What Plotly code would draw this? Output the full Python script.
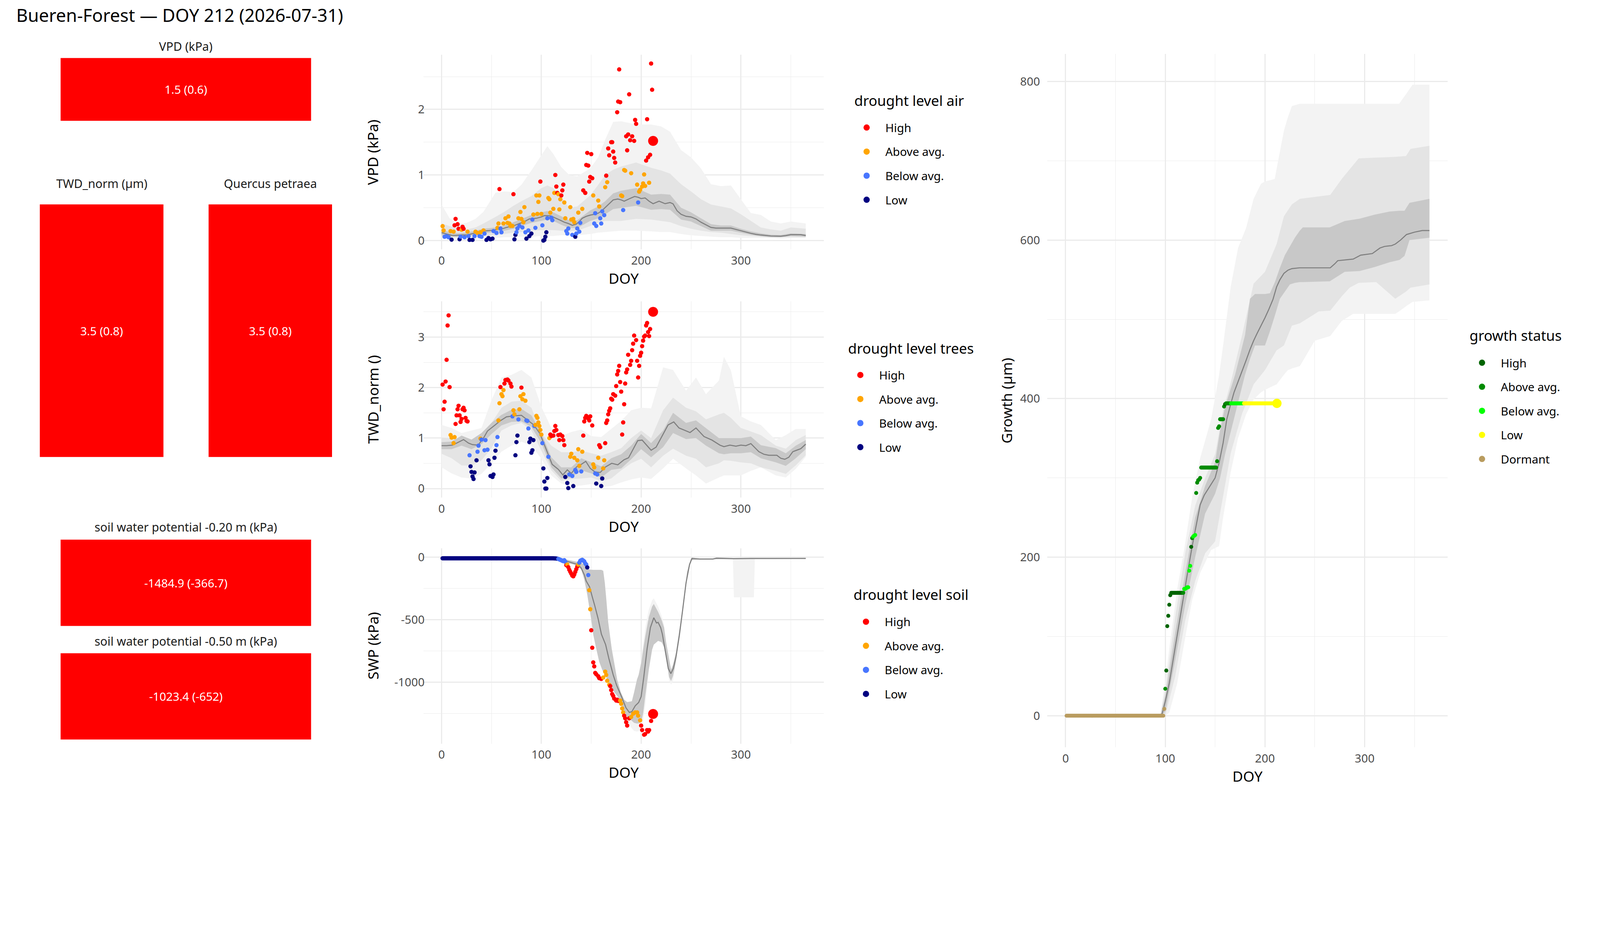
import plotly.graph_objects as go

FONT = "Noto Sans"
TICK_COLOR = "#4d4d4d"

# ------------------------------------------------------------------ text
TITLE = "Bueren-Forest — DOY 212 (2026-07-31)"
X_TITLE = "DOY"
Y_TITLES = ["VPD (kPa)", "TWD_norm ()", "SWP (kPa)", "Growth (µm)"]
LEGEND_TITLES = ["drought level air", "drought level trees", "drought level soil", "growth status"]

DROUGHT_LEVELS = ["High", "Above avg.", "Below avg.", "Low"]
DROUGHT_COLORS = ["#FF0000", "#FFA500", "#4876FF", "#000080"]
GROWTH_LEVELS = ["High", "Above avg.", "Below avg.", "Low", "Dormant"]
GROWTH_COLORS = ["#006400", "#008B00", "#00FF00", "#FFFF00", "#B99C5F"]
CODE_INDEX = {"H": 0, "A": 1, "B": 2, "L": 3, "D": 4}

BAND_COLORS = ["#F3F3F3", "#E4E4E4", "#C8C8C8"]
MEDIAN_COLOR = "#7F7F7F"

CURRENT_DOY = 212

# ------------------------------------------------------------------ tiles
tile_titles = ["VPD (kPa)", "TWD_norm (µm)", "Quercus petraea",
               "soil water potential -0.20 m (kPa)", "soil water potential -0.50 m (kPa)"]
tile_values = [1.5, 3.5, 3.5, -1484.9, -1023.4]
tile_refs = [0.6, 0.8, 0.8, -366.7, -652]
tile_levels = ["High", "High", "High", "High", "High"]

# ------------------------------------------------------------------ VPD
vpd_band_doy = [0, 8, 16, 25, 34, 42, 54, 63, 72, 80, 90, 100, 106, 112, 120, 128, 136, 149, 157, 164,
                172, 180, 195, 210, 220, 229, 240, 250, 260, 270, 280, 290, 300, 310, 320, 330, 340, 350, 365]
vpd_outer_hi = [0.55, 0.34, 0.25, 0.27, 0.33, 0.44, 0.73, 0.75, 0.74, 0.85, 1.07, 1.3, 1.44, 1.32, 1.12, 1.0, 0.98, 1.1, 1.27, 1.54,
                1.81, 1.82, 1.77, 1.77, 1.74, 1.66, 1.38, 1.27, 1.1, 0.86, 0.83, 0.84, 0.63, 0.42, 0.39, 0.29, 0.26, 0.29, 0.26]
vpd_outer_lo = [0.03, 0.03, 0.03, 0.03, 0.03, 0.04, 0.04, 0.05, 0.05, 0.06, 0.06, 0.07, 0.07, 0.07, 0.08, 0.08, 0.08, 0.1, 0.12, 0.13,
                0.14, 0.15, 0.15, 0.14, 0.13, 0.13, 0.1, 0.08, 0.07, 0.06, 0.05, 0.05, 0.04, 0.04, 0.04, 0.04, 0.03, 0.04, 0.04]
vpd_mid_hi = [0.26, 0.22, 0.19, 0.17, 0.2, 0.26, 0.36, 0.44, 0.53, 0.6, 0.68, 0.8, 0.84, 0.8, 0.66, 0.5, 0.52, 0.69, 0.85, 1.0,
              1.08, 1.13, 1.19, 1.11, 1.07, 1.02, 0.86, 0.75, 0.63, 0.55, 0.52, 0.49, 0.4, 0.3, 0.2, 0.17, 0.15, 0.2, 0.18]
vpd_mid_lo = [0.05, 0.05, 0.05, 0.05, 0.06, 0.07, 0.08, 0.1, 0.12, 0.13, 0.15, 0.16, 0.16, 0.16, 0.15, 0.14, 0.15, 0.22, 0.27, 0.3,
              0.3, 0.3, 0.33, 0.32, 0.3, 0.28, 0.22, 0.18, 0.15, 0.13, 0.12, 0.1, 0.08, 0.07, 0.06, 0.05, 0.05, 0.05, 0.05]
vpd_inner_hi = [0.16, 0.13, 0.11, 0.12, 0.15, 0.18, 0.2, 0.23, 0.28, 0.33, 0.39, 0.43, 0.45, 0.43, 0.37, 0.31, 0.31, 0.46, 0.52, 0.6,
                0.72, 0.76, 0.8, 0.7, 0.71, 0.7, 0.5, 0.43, 0.34, 0.25, 0.23, 0.23, 0.18, 0.14, 0.11, 0.09, 0.085, 0.11, 0.1]
vpd_inner_lo = [0.08, 0.06, 0.055, 0.06, 0.09, 0.11, 0.13, 0.15, 0.18, 0.22, 0.27, 0.3, 0.32, 0.3, 0.24, 0.19, 0.19, 0.3, 0.34, 0.4,
                0.48, 0.5, 0.53, 0.47, 0.48, 0.47, 0.32, 0.29, 0.22, 0.15, 0.15, 0.15, 0.12, 0.09, 0.065, 0.05, 0.05, 0.07, 0.06]
vpd_med_doy = [0, 5, 10, 14, 20, 26, 32, 38, 42, 46, 50, 57, 61, 65, 70, 73, 78, 82, 88, 95, 100, 103, 109, 115, 119, 123, 127,
               131, 135, 138, 141, 145, 149, 153, 157, 161, 164, 169, 172, 176.6, 180, 183, 187, 190, 193.5, 197, 200, 204, 208,
               212, 218, 224, 229, 232, 236, 240, 245, 250, 255, 260, 265, 270, 275, 280, 290, 295, 300, 305, 310, 315, 320, 330,
               340, 345, 350, 360, 365]
vpd_med = [0.12, 0.1, 0.08, 0.078, 0.085, 0.087, 0.11, 0.13, 0.145, 0.15, 0.155, 0.174, 0.18, 0.2, 0.22, 0.23, 0.26, 0.28, 0.33,
           0.34, 0.36, 0.38, 0.378, 0.34, 0.31, 0.28, 0.26, 0.232, 0.25, 0.29, 0.34, 0.37, 0.388, 0.4, 0.417, 0.46, 0.504, 0.58,
           0.62, 0.634, 0.62, 0.6, 0.63, 0.65, 0.672, 0.66, 0.64, 0.65, 0.6, 0.562, 0.6, 0.562, 0.58, 0.56, 0.455, 0.4, 0.37, 0.36,
           0.33, 0.28, 0.24, 0.2, 0.19, 0.19, 0.19, 0.17, 0.15, 0.13, 0.11, 0.095, 0.085, 0.07, 0.066, 0.075, 0.09, 0.09, 0.077]
vpd_obs_doy = [1, 2, 3, 5, 7, 9, 10, 12, 13, 14, 16, 17, 18, 19, 20, 21, 22, 23, 26, 27,
               28, 31, 33, 34, 36, 38, 39, 40, 42, 43, 45, 47, 49, 51, 52, 55, 56, 57, 58, 59,
               60, 62, 64, 66, 67, 68, 69, 71, 72, 73, 74, 75, 76, 77, 78, 79, 80, 81, 82, 83,
               84, 85, 87, 88, 90, 91, 92, 94, 95, 96, 97, 98, 99, 100, 101, 102, 103, 104, 105, 106,
               107, 108, 109, 110, 111, 112, 113, 114, 115, 116, 117, 118, 119, 120, 121, 122, 123, 124, 125, 126,
               127, 129, 130, 131, 132, 133, 134, 135, 136, 137, 138, 139, 141, 142, 144, 145, 146, 147, 148, 149,
               150, 151, 152, 153, 154, 155, 157, 158, 159, 160, 161, 163, 164, 165, 166, 167, 168, 170, 171, 172,
               173, 174, 176, 177, 178, 179, 180, 181, 182, 183, 184, 185, 186, 187, 188, 189, 190, 191, 193, 194,
               195, 196, 197, 198, 199, 201, 202, 203, 204, 205, 206, 207, 208, 209, 210, 211]
vpd_obs = [0.22, 0.155, 0.058, 0.068, 0.05, 0.145, 0.014, 0.136, 0.233, 0.33, 0.25, 0.18, 0.02, 0.06, 0.165, 0.21, 0.18, 0.05, 0.136, 0.068,
           0.01, 0.01, 0.068, 0.136, 0.116, 0.068, 0.126, 0.058, 0.155, 0.107, 0.01, 0.039, 0.019, 0.029, 0.145, 0.116, 0.194, 0.26, 0.785, 0.184,
           0.126, 0.26, 0.34, 0.27, 0.368, 0.26, 0.223, 0.223, 0.707, 0.019, 0.087, 0.126, 0.184, 0.34, 0.223, 0.436, 0.33, 0.2, 0.28, 0.51,
           0.126, 0.029, 0.155, 0.068, 0.107, 0.32, 0.397, 0.194, 0.688, 0.407, 0.59, 0.688, 0.9, 0.407, 0.233, 0.0, 0.01, 0.058, 0.126, 0.34,
           0.649, 0.63, 0.426, 0.349, 0.31, 0.484, 0.727, 1.0, 0.824, 0.727, 0.707, 0.475, 0.63, 0.688, 0.765, 0.853, 0.581, 0.34, 0.145, 0.107,
           0.184, 0.51, 0.32, 0.087, 0.33, 0.28, 0.058, 0.107, 0.184, 0.426, 0.136, 0.27, 0.484, 0.765, 0.727, 1.153, 1.337, 1.143, 0.9, 0.97,
           1.318, 0.95, 0.688, 0.26, 0.417, 0.223, 0.61, 0.52, 0.34, 0.26, 0.446, 0.388, 0.814, 0.99, 0.89, 1.405, 1.3, 1.5, 1.5, 1.357,
           1.26, 1.19, 1.957, 2.12, 2.61, 2.11, 0.688, 0.678, 0.465, 1.076, 1.066, 1.59, 1.376, 1.618, 2.23, 1.53, 1.027, 1.59, 1.52, 1.84,
           1.78, 0.853, 0.581, 0.746, 0.775, 0.824, 0.872, 1.008, 0.833, 1.22, 1.85, 1.27, 0.882, 1.308, 2.7, 2.3]
vpd_obs_level = ("AABBBALAHH" "HHLBAHHBAB" "LLBAABABAB" "LLLLBBAAHB" "BAAAAAAAHL"
                 "LBBABAABAA" "BLBLLBABAA" "AAHABLLLLB" "AAABBAAHHH" "AAAHHHAABB"
                 "BAABAALBBA" "BBAHHHHHHH" "HHABBBAABB" "BBAHAHHHHH" "HHHHHHAABA"
                 "AHHHHHAHHH" "HABAAAAAAH" "HHAHHH")
vpd_now, vpd_now_level = 1.52, "H"

# ------------------------------------------------------------------ TWD
twd_band_doy = [0, 10, 20, 30, 40, 50, 60, 70, 80, 90, 100, 110, 120, 130, 140, 150, 160, 170, 180, 190,
                200, 210, 222, 232, 245, 255, 265, 278, 283, 290, 300, 310, 320, 335, 345, 355, 365]
twd_outer_hi = [1.26, 1.2, 1.1, 1.15, 1.2, 1.75, 2.2, 2.25, 2.35, 2.2, 1.62, 1.2, 1.04, 1.12, 1.17, 1.04, 1.02, 1.18, 1.34, 1.55,
                1.6, 1.59, 2.4, 2.35, 1.94, 2.2, 1.87, 2.14, 2.61, 2.34, 1.43, 1.33, 1.26, 0.96, 1.06, 1.18, 1.18]
twd_outer_lo = [0.42, 0.3, 0.22, 0.2, 0.29, 0.5, 0.73, 0.85, 0.93, 0.85, 0.59, 0.26, 0.1, 0.05, 0.06, 0.09, 0.03, 0.05, 0.12, 0.18,
                0.22, 0.19, 0.4, 0.59, 0.4, 0.26, 0.1, 0.22, 0.26, 0.26, 0.26, 0.35, 0.42, 0.26, 0.22, 0.39, 0.63]
twd_mid_hi = [1.01, 1.0, 0.96, 0.93, 0.96, 1.3, 1.6, 1.72, 1.74, 1.6, 1.1, 0.85, 0.72, 0.72, 0.75, 0.7, 0.65, 0.72, 0.8, 1.0,
              1.15, 1.0, 1.55, 1.8, 1.6, 1.53, 1.37, 1.47, 1.5, 1.4, 1.2, 1.13, 1.06, 0.85, 0.79, 0.96, 1.06]
twd_mid_lo = [0.69, 0.6, 0.46, 0.45, 0.56, 0.8, 1.15, 1.25, 1.3, 1.15, 0.75, 0.36, 0.15, 0.19, 0.2, 0.22, 0.15, 0.2, 0.36, 0.5,
              0.59, 0.42, 0.65, 0.79, 0.65, 0.59, 0.42, 0.5, 0.56, 0.55, 0.52, 0.5, 0.42, 0.35, 0.29, 0.46, 0.66]
twd_inner_hi = [0.92, 0.93, 1.05, 0.97, 1.1, 1.3, 1.46, 1.56, 1.58, 1.45, 1.1, 0.62, 0.42, 0.42, 0.6, 0.52, 0.44, 0.6, 0.68, 0.85,
                1.08, 0.9, 1.15, 1.5, 1.3, 1.35, 1.2, 1.0, 1.0, 1.0, 1.0, 1.03, 0.86, 0.8, 0.7, 0.85, 0.96]
twd_inner_lo = [0.78, 0.78, 0.85, 0.78, 0.88, 1.08, 1.25, 1.32, 1.33, 1.22, 0.9, 0.42, 0.2, 0.22, 0.36, 0.3, 0.22, 0.37, 0.4, 0.58,
                0.78, 0.62, 0.82, 1.1, 0.98, 1.0, 0.85, 0.7, 0.68, 0.7, 0.7, 0.72, 0.6, 0.52, 0.45, 0.6, 0.78]
twd_med_doy = [0, 5, 11, 17, 22, 27, 31, 36.5, 42, 46, 52.5, 58.7, 65, 72.5, 80, 86, 92.4, 98.5, 104.6, 110.8, 117, 121.5, 126,
               130, 135.3, 140, 144.5, 149, 153.7, 159, 164.4, 170.5, 176.6, 182.8, 187.4, 192, 196.6, 201, 205.7, 210, 215,
               221, 227, 232.7, 238, 243, 249, 255, 263, 271, 279, 283, 289, 295, 300, 305, 310, 318, 323, 328, 336, 340, 344,
               348, 352, 356, 360, 365]
twd_med = [0.85, 0.85, 0.86, 0.92, 0.97, 0.9, 0.87, 0.86, 1.0, 1.14, 1.24, 1.34, 1.42, 1.44, 1.45, 1.36, 1.26, 1.09, 0.78, 0.48,
           0.38, 0.27, 0.37, 0.3, 0.43, 0.48, 0.54, 0.4, 0.33, 0.32, 0.43, 0.5, 0.47, 0.57, 0.61, 0.78, 0.95, 0.96, 0.86, 0.76,
           0.82, 1.04, 1.26, 1.32, 1.2, 1.16, 1.11, 1.2, 1.03, 0.96, 0.86, 0.83, 0.86, 0.84, 0.86, 0.85, 0.89, 0.73, 0.68, 0.66,
           0.66, 0.6, 0.58, 0.62, 0.73, 0.76, 0.79, 0.88]
twd_obs_doy = [1, 2, 3, 4, 5, 6, 7, 8, 9, 10, 12, 13, 14, 15, 16, 17, 18, 19, 20, 21,
               22, 23, 24, 25, 26, 28, 29, 30, 31, 32, 33, 35, 36, 37, 39, 40, 43, 44, 46, 47,
               48, 49, 51, 52, 53, 54, 55, 56, 57, 58, 59, 60, 61, 62, 63, 64, 66, 67, 69, 70,
               71, 72, 73, 74, 75, 76, 77, 78, 79, 80, 81, 82, 84, 85, 86, 87, 88, 89, 90, 91,
               92, 93, 94, 95, 96, 97, 98, 99, 100, 101, 102, 103, 104, 105, 106, 107, 108, 109, 110, 112,
               113, 114, 115, 117, 118, 119, 121, 122, 123, 124, 126, 127, 128, 129, 130, 131, 132, 133, 134, 135,
               136, 137, 138, 140, 141, 142, 143, 144, 145, 147, 148, 149, 151, 152, 153, 154, 155, 156, 157, 158,
               159, 160, 161, 162, 163, 164, 165, 166, 167, 168, 169, 170, 171, 172, 174, 175, 176, 177, 178, 179,
               180, 181, 182, 183, 184, 185, 186, 187, 189, 190, 191, 192, 193, 195, 196, 197, 198, 199, 200, 201,
               202, 203, 204, 205, 206, 207, 208, 209]
twd_obs = [2.06, 1.57, 1.72, 2.12, 2.55, 3.23, 3.43, 2.01, 1.06, 1.01, 0.9, 1.02, 1.28, 1.45, 1.57, 1.64, 1.45, 1.32, 1.38, 1.57,
           1.6, 1.55, 1.4, 1.34, 1.33, 0.66, 0.44, 0.33, 0.24, 0.19, 0.32, 0.56, 0.73, 0.85, 0.99, 0.97, 0.76, 0.96, 0.77, 0.56,
           0.48, 0.25, 0.23, 0.28, 0.61, 0.75, 0.86, 1.02, 1.35, 1.69, 2.01, 1.87, 1.83, 1.95, 2.08, 2.15, 2.16, 2.14, 2.08, 2.02,
           1.43, 1.55, 1.47, 0.66, 0.92, 1.05, 1.37, 1.57, 1.83, 2.0, 1.77, 1.87, 1.74, 1.35, 1.34, 1.19, 0.92, 0.99, 0.71, 0.76,
           0.96, 1.24, 1.26, 1.44, 1.4, 1.31, 1.24, 1.16, 1.07, 0.9, 0.4, 0.14, 0.0, 0.0, 0.21, 0.63, 1.0, 1.07, 1.04, 1.05,
           1.14, 1.24, 1.16, 1.06, 0.96, 1.07, 1.04, 0.96, 0.86, 0.23, 0.11, 0.01, 0.28, 0.63, 0.69, 0.25, 0.05, 0.61, 0.37, 0.33,
           0.56, 0.78, 0.45, 0.34, 0.73, 1.05, 1.33, 1.4, 1.44, 1.39, 1.35, 1.43, 1.25, 0.48, 0.42, 0.3, 0.1, 0.28, 0.61, 0.86,
           0.82, 0.05, 0.2, 0.4, 0.56, 0.9, 1.3, 1.35, 1.47, 1.54, 1.59, 1.78, 1.76, 1.87, 1.84, 2.03, 2.26, 2.33, 2.43, 2.11,
           1.92, 1.07, 1.31, 1.67, 2.08, 2.3, 2.36, 2.65, 2.45, 2.53, 2.74, 2.87, 3.03, 2.94, 2.53, 2.2, 2.43, 2.63, 2.69, 2.82,
           2.93, 3.01, 3.03, 3.23, 3.28, 3.1, 3.02, 3.16]
twd_obs_level = ("HHHHHHHHAA" "AAHHHHHHHH" "HHHHHBLLLL" "LLBBABBBBL" "LLLLLLBBAA"
                 "HAAAHHHHHH" "BAALLLBAAH" "AAABBBLLLL" "LBAAAAAAAB" "LLLLLBAHHH"
                 "HHHHHHHHHL" "LLBAABLABB" "AAABAHHHHH" "HHHAABLBAH" "HLLAAHHHHH"
                 "HHHHHHHHHH" "HHHHHHHHHH" "HHHHHHHHHH" "HHHHHHHH")
twd_now, twd_now_level = 3.5, "H"

# ------------------------------------------------------------------ SWP
swp_inner_doy = [0, 100, 115, 120, 125, 130, 135, 140, 143, 146, 148, 150, 152, 155, 158, 160, 162, 163.6, 165, 167,
                 170.5, 174, 176, 179.6, 183, 186, 190.7, 193, 195.8, 197.5, 200, 202, 204.3, 207.7, 211, 212.7, 217, 220.5, 223, 225,
                 228, 230, 232, 235, 238, 242, 246, 250, 260, 365]
swp_inner_lo = [-12, -12, -20, -30, -45, -55, -65, -100, -180, -300, -396, -500, -620, -732, -837, -880, -920, -942, -960, -1000,
                -1050, -1090, -1110, -1150, -1230, -1280, -1310, -1325, -1331, -1330, -1320, -1250, -1100, -900, -740, -700, -670, -680, -720, -800,
                -960, -990, -950, -830, -650, -420, -175, -25, -18, -14]
swp_inner_hi = [-5, -5, -8, -12, -20, -28, -35, -45, -60, -90, -100, -102, -102, -102, -102, -102, -110, -207, -330, -522,
                -732, -890, -980, -1080, -1140, -1160, -1153, -1080, -980, -942, -850, -740, -627, -480, -396, -375, -438, -501, -564, -680,
                -820, -900, -860, -760, -600, -390, -120, -10, -12, -8]
swp_outer_doy = [0, 100, 115, 120, 125, 130, 135, 140, 143, 146, 148, 150, 152, 155, 158, 160, 162, 163.6, 165, 167,
                 170.5, 174, 176, 179.6, 183, 186, 190.7, 193, 195.8, 197.5, 200, 202, 204.3, 207.7, 211, 212.7, 217, 220.5, 223, 225,
                 228, 230, 232, 235, 238, 242, 246, 250, 260, 292, 293, 313, 314, 365]
swp_outer_lo = [-12, -12, -20, -30, -45, -55, -65, -100, -180, -300, -396, -500, -620, -732, -837, -880, -920, -942, -960, -1000,
                -1050, -1090, -1110, -1150, -1250, -1320, -1370, -1390, -1395, -1390, -1365, -1300, -1180, -900, -740, -700, -670, -680, -720, -800,
                -985, -1020, -990, -830, -650, -420, -175, -25, -18, -16, -322, -322, -16, -14]
swp_outer_hi = [-5, -5, -8, -12, -20, -28, -35, -45, -60, -90, -100, -102, -102, -102, -102, -102, -110, -207, -330, -522,
                -732, -890, -980, -1080, -1140, -1160, -1153, -1080, -980, -942, -820, -700, -560, -420, -345, -330, -395, -470, -540, -680,
                -820, -900, -860, -760, -600, -390, -120, -10, -12, -12, -13, -13, -12, -8]
swp_med_doy = [0, 50, 100, 110, 115, 120, 125, 130, 136.4, 139.8, 143.2, 144.9, 148.3, 150.8, 153.4, 156.8, 160.2, 164.4, 167.8,
               172, 175.5, 180.6, 184.8, 188.2, 190.7, 194.1, 197.5, 200, 202.6, 206, 209.3, 212.7, 215.4, 217, 219.6, 221.3, 224.7,
               227.2, 229.8, 232.3, 235, 238.3, 241.7, 245, 248.5, 251, 258.7, 272, 275.6, 292.6, 309.6, 365]
swp_med = [-8, -8, -9, -10, -13, -20, -32, -45, -60, -86, -144, -191, -238, -312, -385, -490, -617, -700, -816,
           -942, -1026, -1121, -1205, -1242, -1236, -1189, -1163, -1116, -963, -732, -564, -485, -527, -522, -564, -617, -774,
           -890, -932, -890, -795, -627, -417, -207, -60, -11, -16, -16, -9, -13, -11, -11]
swp_obs_doy = list(range(1, 117)) + [
    117, 118, 119, 120, 121, 122, 123, 124, 125, 126, 127, 128, 129, 130, 131, 132, 133, 134, 135, 136,
    137, 138, 139, 140, 141, 142, 143, 144, 145, 146, 147, 148, 149, 150, 151, 152, 153, 154, 155, 157,
    158, 160, 162, 164, 165, 166, 168, 169, 170, 171, 172, 173, 175, 176, 177, 179, 180, 181, 182, 183,
    184, 185, 186, 188, 190, 192, 194, 196, 197, 199, 200, 201, 203, 204, 206, 207, 208, 210]
swp_obs = [
    -10, -10, -10, -10, -10, -10, -10, -10, -10, -10, -10, -10, -10, -10, -10, -10, -10, -10, -10, -10,
    -10, -10, -10, -10, -10, -10, -10, -10, -10, -10, -10, -10, -10, -10, -10, -10, -10, -10, -10, -10,
    -10, -10, -10, -10, -10, -10, -10, -10, -10, -10, -10, -10, -10, -10, -10, -10, -10, -10, -10, -10,
    -10, -10, -10, -10, -10, -10, -10, -10, -10, -10, -10, -10, -10, -10, -10, -10, -10, -10, -10, -10,
    -10, -10, -10, -10, -10, -10, -10, -10, -10, -10, -10, -10, -10, -10, -10, -10, -10, -10, -10, -10,
    -10, -10, -10, -10, -10, -10, -10, -10, -10, -10, -10, -10, -11, -11, -12, -13,
    -15, -18, -22, -25, -30, -33, -25, -38, -65, -60, -81, -102, -118, -133, -149, -154, -139, -118, -97, -76,
    -60, -45, -30, -25, -22, -28, -35, -50, -60, -83, -144, -265, -417, -585, -725, -842, -874, -926, -937, -953,
    -968, -974, -963, -916, -942, -989, -1021, -1031, -1063, -1095, -1110, -1131, -1147, -1140, -1150, -1147, -1173, -1210, -1242, -1268,
    -1289, -1320, -1347, -1289, -1278, -1252, -1242, -1242, -1268, -1305, -1347, -1383, -1420, -1415, -1383, -1395, -1383, -1310]
swp_obs_level = ("LLLLLLLLLLLLLLLLLLLL" "LLLLLLLLLLLLLLLLLLLL" "LLLLLLLLLLLLLLLLLLLL"
                 "LLLLLLLLLLLLLLLLLLLL" "LLLLLLLLLLLLLLLLLLLL" "LLLLLLLLLLLLLLLL"
                 "BBBBBBBBHA" "HHHHHHHHHH" "ABBBBBBBBL" "BAAHHHHHHH"
                 "HHAAAAAHHH" "HHHHHAAAAH" "HHHHAAAAAA" "HHHHHHHH")
swp_now, swp_now_level = -1254.15, "H"

# ------------------------------------------------------------------ growth
gr_outer_doy = [0, 95, 100, 104, 112, 119.5, 127, 135, 146, 154, 158, 165.6, 173, 181, 188.6, 196, 200, 209.8, 211.7, 219,
                223, 227, 235, 250, 265.5, 277, 288.5, 300, 330.7, 334.6, 342, 348, 365]
gr_outer_hi = [0, 0, 45, 85, 160, 214, 276, 325, 374, 430, 467, 541, 590, 615, 652, 671, 674, 677, 690, 738,
               755, 769, 772, 772, 772, 772, 772, 772, 772, 772, 785, 796, 796]
gr_outer_lo = [0, 0, 0, 4, 41, 95, 146, 180, 209, 214, 250, 307, 350, 380, 399, 408, 411, 417, 418, 430,
               436, 438, 441, 473, 479, 498, 507, 507, 507, 510, 517, 522, 524]
gr_mid_doy = [0, 95, 100, 110, 120, 130, 140, 150, 158, 165.6, 177, 188.6, 200, 211.7, 219, 227, 235, 254, 265.5, 277,
              285, 294, 311.6, 330.7, 341.5, 346, 365]
gr_mid_hi = [0, 0, 32, 125, 205, 265, 300, 330, 385, 420, 480, 545, 560, 595, 630, 645, 652, 655, 657, 677,
             689, 703, 704, 705, 706, 715, 719]
gr_mid_lo = [0, 0, 0, 50, 120, 170, 205, 220, 276, 331, 381, 418, 436, 461, 467, 492, 495, 510, 511, 529,
             540, 546, 547, 526, 535, 540, 544]
gr_inner_doy = [0, 95, 100, 110, 120, 130, 140, 150, 155, 160, 170, 180, 185, 190, 200, 205, 210, 215, 220, 225,
                230, 235, 238, 265, 280, 295, 310, 325, 335, 340, 345, 365]
gr_inner_hi = [0, 0, 25, 105, 180, 250, 290, 320, 360, 390, 430, 480, 526, 532, 532, 533, 547, 565, 581, 592,
               603, 612, 616, 616, 624, 627, 632, 636, 637, 637, 647, 652]
gr_inner_lo = [0, 0, 5, 70, 140, 200, 255, 280, 300, 330, 380, 430, 450, 467, 467, 485, 505, 526, 535, 544,
               546, 547, 547, 548, 560, 561, 566, 572, 575, 580, 600, 603]
gr_med_doy = [0, 95, 97, 100, 104, 108, 112, 116, 119.5, 123, 127, 131, 135, 139, 142.5, 146, 150, 154, 158, 161.7,
              165.6, 169, 173, 177, 181, 185, 188.6, 192, 196, 200, 204, 208, 211.7, 215, 219, 223, 227, 234.7, 265.5, 270,
              273, 280, 288.5, 296, 307.7, 315.4, 320, 327, 330.8, 336, 342, 350, 357.7, 365]
gr_med = [0, 0, 3, 18, 41, 72, 103, 132, 159, 185, 214, 240, 266, 278, 285, 292, 300, 319, 344, 374,
          393, 408, 421, 435, 448, 462, 473, 482, 492, 502, 513, 525, 541, 550, 558, 562, 564, 565, 565, 570,
          574, 575, 576, 581, 583, 590, 592, 593, 595, 600, 607, 610, 612, 612]
gr_obs_doy = list(range(1, 212))
gr_obs = [
    0, 0, 0, 0, 0, 0, 0, 0, 0, 0, 0, 0, 0, 0, 0, 0, 0, 0, 0, 0,
    0, 0, 0, 0, 0, 0, 0, 0, 0, 0, 0, 0, 0, 0, 0, 0, 0, 0, 0, 0,
    0, 0, 0, 0, 0, 0, 0, 0, 0, 0, 0, 0, 0, 0, 0, 0, 0, 0, 0, 0,
    0, 0, 0, 0, 0, 0, 0, 0, 0, 0, 0, 0, 0, 0, 0, 0, 0, 0, 0, 0,
    0, 0, 0, 0, 0, 0, 0, 0, 0, 0, 0, 0, 0, 0, 0, 0, 0, 0, 8.6,
    34, 57, 113, 126, 140, 152,
    155, 155, 155, 155, 155, 155, 155, 155, 155, 155, 155, 155, 155,
    160, 160, 161, 162, 162, 183, 189,
    213, 224, 226, 227, 228,
    281, 294, 297, 298, 300,
    313, 313, 313, 313, 313, 313, 313, 313, 313, 313, 313, 313, 313, 313, 313, 313,
    321, 363, 365, 374, 374, 374, 374, 390, 393,
    394, 394, 394, 394, 394, 394, 394, 394, 394, 394, 394, 394, 394, 394, 394, 394, 394, 394, 394, 394,
    394, 394, 394, 394, 394, 394, 394, 394, 394, 394, 394, 394, 394, 394, 394, 394, 394, 394, 394, 394,
    394, 394, 394, 394, 394, 394, 394, 394, 394, 394, 394]
gr_obs_level = ("DDDDDDDDDDDDDDDDDDDD" "DDDDDDDDDDDDDDDDDDDD" "DDDDDDDDDDDDDDDDDDDD"
                "DDDDDDDDDDDDDDDDDDDD" "DDDDDDDDDDDDDDDDDDD"
                "AHHHHH" "HHHHHHHHHHHHA" "BBBBBBB" "HABBB" "AAAAA" "AAAAAAAAAAAAAAAA"
                "AAAAAAAAH"
                "AAAAABBBBBBBBBBBBBLLLLLLL" "LLLLLLLLLLLLLLLLLLLL" "LLLLLL")
gr_now, gr_now_level = 394, "L"

# ------------------------------------------------------------------ page geometry
# The capture shows the page magnified by ~1.18 with the default 8 px body margin,
# so the figure is sized in CSS px and reference pixel positions are converted.
S = 1.18
W, H = 4030, 2005
BODY = 8


def fx(p):
    return (p / S - BODY) / W


def fy(p):
    return 1 - (p / S - BODY) / H


def px(v):
    return v / S


X_RANGE = [-18.25, 383.25]
MID_X = [fx(1279), fx(2489)]
PANELS = [
    dict(xa="x", ya="y", xdom=MID_X, ydom=[fy(753), fy(165)], yrange=[-0.135, 2.835], dtick=1, minor=0.5, lab_off=-24),
    dict(xa="x2", ya="y2", xdom=MID_X, ydom=[fy(1502), fy(910)], yrange=[-0.1765, 3.7065], dtick=1, minor=0.5, lab_off=-24),
    dict(xa="x3", ya="y3", xdom=MID_X, ydom=[fy(2245), fy(1655)], yrange=[-1491, 71], dtick=500, minor=250, lab_off=-24),
    dict(xa="x4", ya="y4", xdom=[fx(3164), fx(4373)], ydom=[fy(2256), fy(163)], yrange=[-39.75, 834.75], dtick=200, minor=100, lab_off=-2),
]
# y-axis title centres (reference pixels)
Y_TITLE_POS = [(1126, 459), (1126, 1206), (1126, 1950), (3040, 1210)]
# (title left x, title centre y, marker centre x, first item centre y) in reference pixels
LEGEND_GEOM = [(2578, 303, 2612, 383), (2559, 1051, 2593, 1130), (2576, 1795, 2610, 1875), (4437, 1013, 4471, 1093)]
TILE_BOX = [(183, 940, 175, 365), (120, 494, 617, 1380), (630, 1003, 617, 1380), (183, 940, 1629, 1890), (183, 940, 1972, 2233)]
TILE_LABEL_Y = [139, 554, 554, 1591, 1935]
ITEMWIDTH = 86

fig = go.Figure()


def band(doy, lo, hi, color, xa, ya):
    fig.add_trace(go.Scatter(
        x=list(doy) + list(doy)[::-1], y=list(hi) + list(lo)[::-1],
        fill="toself", fillcolor=color, mode="lines", line=dict(width=0),
        hoverinfo="skip", showlegend=False, xaxis=xa, yaxis=ya))


def median(doy, vals, xa, ya):
    fig.add_trace(go.Scatter(x=doy, y=vals, mode="lines", line=dict(color=MEDIAN_COLOR, width=px(3.2)),
                             hoverinfo="skip", showlegend=False, xaxis=xa, yaxis=ya))


def observed(doy, vals, levels, colors, now_val, now_level, xa, ya, size=13, now_size=30):
    fig.add_trace(go.Scatter(
        x=doy, y=vals, mode="markers",
        marker=dict(color=[colors[CODE_INDEX[c]] for c in levels], size=px(size), line=dict(width=0)),
        showlegend=False, xaxis=xa, yaxis=ya))
    fig.add_trace(go.Scatter(
        x=[CURRENT_DOY], y=[now_val], mode="markers",
        marker=dict(color=colors[CODE_INDEX[now_level]], size=px(now_size), line=dict(width=0)),
        showlegend=False, xaxis=xa, yaxis=ya))


def legend_entries(names, colors, legend_id, xa, ya):
    for name, col in zip(names, colors):
        fig.add_trace(go.Scatter(
            x=[None], y=[None], mode="markers", name=name,
            marker=dict(color=col, size=16, line=dict(width=0)),
            legend=legend_id, legendgroup=legend_id + name, showlegend=True,
            xaxis=xa, yaxis=ya))


# VPD panel
p = PANELS[0]
band(vpd_band_doy, vpd_outer_lo, vpd_outer_hi, BAND_COLORS[0], p["xa"], p["ya"])
band(vpd_band_doy, vpd_mid_lo, vpd_mid_hi, BAND_COLORS[1], p["xa"], p["ya"])
band(vpd_band_doy, vpd_inner_lo, vpd_inner_hi, BAND_COLORS[2], p["xa"], p["ya"])
median(vpd_med_doy, vpd_med, p["xa"], p["ya"])
observed(vpd_obs_doy, vpd_obs, vpd_obs_level, DROUGHT_COLORS, vpd_now, vpd_now_level, p["xa"], p["ya"])
legend_entries(DROUGHT_LEVELS, DROUGHT_COLORS, "legend", p["xa"], p["ya"])

# TWD panel
p = PANELS[1]
band(twd_band_doy, twd_outer_lo, twd_outer_hi, BAND_COLORS[0], p["xa"], p["ya"])
band(twd_band_doy, twd_mid_lo, twd_mid_hi, BAND_COLORS[1], p["xa"], p["ya"])
band(twd_band_doy, twd_inner_lo, twd_inner_hi, BAND_COLORS[2], p["xa"], p["ya"])
median(twd_med_doy, twd_med, p["xa"], p["ya"])
observed(twd_obs_doy, twd_obs, twd_obs_level, DROUGHT_COLORS, twd_now, twd_now_level, p["xa"], p["ya"])
legend_entries(DROUGHT_LEVELS, DROUGHT_COLORS, "legend2", p["xa"], p["ya"])

# SWP panel
p = PANELS[2]
band(swp_outer_doy, swp_outer_lo, swp_outer_hi, BAND_COLORS[0], p["xa"], p["ya"])
band(swp_inner_doy, swp_inner_lo, swp_inner_hi, BAND_COLORS[2], p["xa"], p["ya"])
median(swp_med_doy, swp_med, p["xa"], p["ya"])
observed(swp_obs_doy, swp_obs, swp_obs_level, DROUGHT_COLORS, swp_now, swp_now_level, p["xa"], p["ya"])
legend_entries(DROUGHT_LEVELS, DROUGHT_COLORS, "legend3", p["xa"], p["ya"])

# Growth panel
p = PANELS[3]
band(gr_outer_doy, gr_outer_lo, gr_outer_hi, BAND_COLORS[0], p["xa"], p["ya"])
band(gr_mid_doy, gr_mid_lo, gr_mid_hi, BAND_COLORS[1], p["xa"], p["ya"])
band(gr_inner_doy, gr_inner_lo, gr_inner_hi, BAND_COLORS[2], p["xa"], p["ya"])
median(gr_med_doy, gr_med, p["xa"], p["ya"])
observed(gr_obs_doy, gr_obs, gr_obs_level, GROWTH_COLORS, gr_now, gr_now_level, p["xa"], p["ya"], size=12, now_size=28)
legend_entries(GROWTH_LEVELS, GROWTH_COLORS, "legend4", p["xa"], p["ya"])

# tiles
level_color = dict(zip(DROUGHT_LEVELS, DROUGHT_COLORS))
annotations = []
for i, (ttl, val, ref, lev) in enumerate(zip(tile_titles, tile_values, tile_refs, tile_levels)):
    n = 5 + i
    fig.add_trace(go.Bar(
        x=[0], y=[1], width=[1], marker=dict(color=level_color[lev], line=dict(width=0)),
        text=[f"{val:g} ({ref:g})"], textposition="inside", insidetextanchor="middle", textangle=0,
        constraintext="none", textfont=dict(family=FONT, size=px(35), color="white"),
        hoverinfo="skip", showlegend=False, xaxis=f"x{n}", yaxis=f"y{n}"))
    annotations.append(dict(
        text=ttl, xref=f"x{n} domain", yref="paper", x=0.5, y=fy(TILE_LABEL_Y[i]), xanchor="center", yanchor="middle",
        showarrow=False, font=dict(family=FONT, size=px(36), color="#1A1A1A")))

# legend titles
for ttl, (tx, ty, mx, my) in zip(LEGEND_TITLES, LEGEND_GEOM):
    annotations.append(dict(
        text=ttl, xref="paper", yref="paper", x=fx(tx), y=fy(ty), xanchor="left", yanchor="middle",
        showarrow=False, font=dict(family=FONT, size=px(43), color="black")))

# y-axis titles
for ttl, (tx, ty) in zip(Y_TITLES, Y_TITLE_POS):
    annotations.append(dict(
        text=ttl, xref="paper", yref="paper", x=fx(tx), y=fy(ty), xanchor="center", yanchor="middle",
        textangle=-90, showarrow=False, font=dict(family=FONT, size=px(44), color="black")))

layout = dict(
    width=W, height=H,
    margin=dict(l=0, r=0, t=0, b=0),
    paper_bgcolor="white", plot_bgcolor="white",
    font=dict(family=FONT, color="black"),
    title=dict(text=TITLE, x=fx(49), xanchor="left", y=fy(47), yanchor="middle",
               font=dict(family=FONT, size=px(54), color="black")),
    annotations=annotations,
    showlegend=True,
)

grid = dict(showgrid=True, gridcolor="#EBEBEB", gridwidth=px(3), zeroline=False, showline=False,
            automargin=False, tickfont=dict(family=FONT, size=px(35), color=TICK_COLOR))

for i, p in enumerate(PANELS):
    sfx = "" if i == 0 else str(i + 1)
    xa = dict(grid, domain=p["xdom"], anchor=p["ya"], range=X_RANGE, tick0=0, dtick=100, ticks="",
              minor=dict(showgrid=True, gridcolor="#EBEBEB", gridwidth=px(1.6), tick0=0, dtick=50),
              ticklabelstandoff=round(px(10)),
              title=dict(text=X_TITLE, font=dict(family=FONT, size=px(44), color="black"), standoff=px(10)))
    ya = dict(grid, domain=p["ydom"], anchor=p["xa"], range=p["yrange"], tick0=0, dtick=p["dtick"],
              ticks="outside", ticklen=round(px(17)), tickwidth=1, tickcolor="rgba(0,0,0,0)",
              ticklabelstandoff=p["lab_off"],
              minor=dict(showgrid=True, gridcolor="#EBEBEB", gridwidth=px(1.6), tick0=0, dtick=p["minor"],
                         ticks=""))
    if i == 2:
        ya["tickmode"] = "array"
        ya["tickvals"] = [-1000, -500, 0]
        ya["ticktext"] = ["-1000", "-500", "0"]
    layout["xaxis" + sfx] = xa
    layout["yaxis" + sfx] = ya

for i, (x0, x1, y0, y1) in enumerate(TILE_BOX):
    n = 5 + i
    layout[f"xaxis{n}"] = dict(domain=[fx(x0), fx(x1)], anchor=f"y{n}", range=[-0.5, 0.5], visible=False, fixedrange=True)
    layout[f"yaxis{n}"] = dict(domain=[fy(y1), fy(y0)], anchor=f"x{n}", range=[0, 1], visible=False, fixedrange=True)

legend_ids = ["legend", "legend2", "legend3", "legend4"]
for lid, (tx, ty, mx, my) in zip(legend_ids, LEGEND_GEOM):
    lx = (mx / S - BODY - ITEMWIDTH / 2) / W
    ly = 1 - (my / S - BODY - 24) / H
    layout[lid] = dict(
        x=lx, y=ly, xanchor="left", yanchor="top", bgcolor="rgba(0,0,0,0)", borderwidth=0,
        font=dict(family=FONT, size=px(35), color="black"), itemwidth=ITEMWIDTH, tracegroupgap=20)

fig.update_layout(**layout)
fig.write_html("out.html")
